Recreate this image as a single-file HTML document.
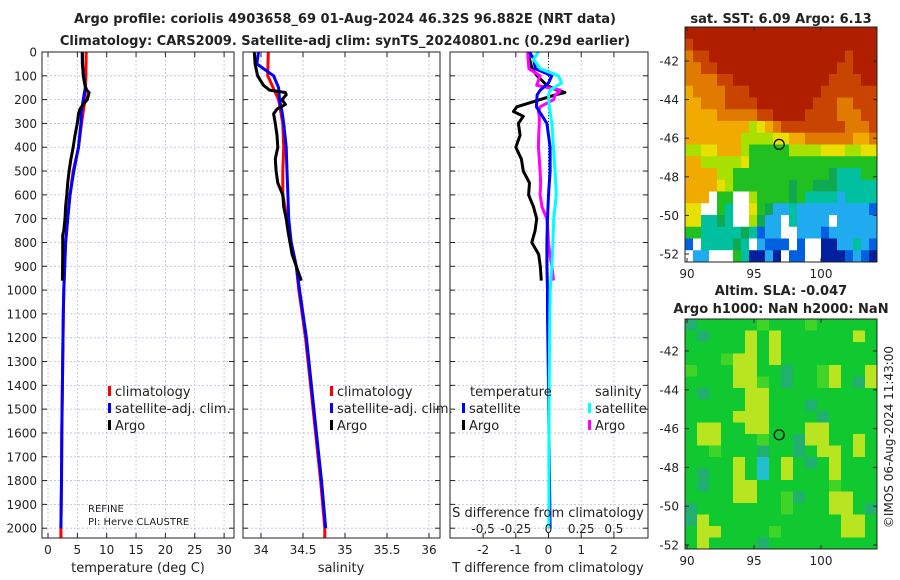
<!DOCTYPE html>
<html><head><meta charset="utf-8"><style>
body{margin:0;background:#fff}
svg{display:block;font-family:"DejaVu Sans","Liberation Sans",sans-serif}
</style></head><body>
<svg id="fig" width="900" height="580" viewBox="0 0 900 580" xmlns="http://www.w3.org/2000/svg">
<g font-weight="bold" font-size="13" fill="#222" text-anchor="middle">
<text x="345" y="23">Argo profile: coriolis 4903658_69 01-Aug-2024 46.32S 96.882E (NRT data)</text>
<text x="345" y="45">Climatology: CARS2009. Satellite-adj clim: synTS_20240801.nc (0.29d earlier)</text>
<text x="781" y="23">sat. SST: 6.09 Argo: 6.13</text>
<text x="781" y="295">Altim. SLA: -0.047</text>
<text x="781" y="313">Argo h1000: NaN h2000: NaN</text>
</g>
<g id="plots"></g>
<text transform="translate(893,437) rotate(-90)" text-anchor="middle" font-size="12" fill="#222">©IMOS 06-Aug-2024 11:43:00</text>
</svg>
<script>
// ---- data ----
const depthTicks = [0,100,200,300,400,500,600,700,800,900,1000,1100,1200,1300,1400,1500,1600,1700,1800,1900,2000];
const tempTicks = [0,5,10,15,20,25,30];
const salTicks = [34,34.5,35,35.5,36];
const salTickLabels = ['34','34.5','35','35.5','36'];
const tdiffTicks = [-2,-1,0,1,2];
const sdiffTicks = [-0.5,-0.25,0,0.25,0.5];
const sdiffTickLabels = ['-0,5','-0.25','0','0.25','0.5'];

const climDepth = [0,100,200,300,400,500,600,700,800,900,1000,1100,1200,1400,1600,1800,2000,2040];
const climTemp = [6.5,6.45,6.3,5.7,5.2,4.3,3.75,3.35,3.0,2.85,2.7,2.6,2.55,2.45,2.35,2.3,2.2,2.2];
const climSal = [34.087,34.08,34.21,34.26,34.27,34.26,34.26,34.31,34.36,34.42,34.45,34.49,34.53,34.59,34.65,34.71,34.76,34.76];

const satDepth = [0,50,100,150,200,250,300,400,500,600,700,800,900,1000,1100,1200,1400,1600,1800,2000];
const satTemp = [5.85,5.85,6.1,6.35,6.0,5.7,5.6,5.2,4.4,3.75,3.35,3.0,2.85,2.7,2.6,2.55,2.45,2.35,2.3,2.2];
const satSal = [33.97,33.95,34.15,34.21,34.22,34.25,34.27,34.30,34.31,34.32,34.33,34.36,34.42,34.46,34.5,34.54,34.6,34.66,34.72,34.77];

const argoDepth = [0,50,100,140,160,170,180,200,220,240,260,300,350,400,450,500,550,600,650,700,750,770,850,960];
const argoTemp = [5.85,5.9,6.0,6.3,6.6,7.0,6.9,6.7,6.0,5.45,5.2,5.0,4.6,4.3,3.9,3.6,3.35,3.2,3.0,2.9,2.7,2.5,2.5,2.45];
const argoSal = [33.92,33.93,33.96,34.03,34.1,34.29,34.3,34.25,34.29,34.19,34.15,34.17,34.19,34.2,34.17,34.18,34.2,34.26,34.27,34.3,34.32,34.33,34.37,34.48];

const dDepthArgo = [0,70,100,140,160,170,180,200,230,250,270,300,350,400,450,500,550,600,650,700,750,800,850,900,960];
const dTempArgo = [-0.64,-0.5,-0.35,-0.05,0.25,0.5,0.2,-0.25,-0.97,-1.07,-0.77,-0.92,-0.87,-1.0,-0.83,-0.77,-0.58,-0.61,-0.46,-0.36,-0.41,-0.51,-0.3,-0.25,-0.22];
const dSalArgo = [-0.16,-0.15,-0.064,-0.09,0.09,0.08,0.05,0.04,-0.064,-0.077,-0.07,-0.07,-0.075,-0.077,-0.07,-0.064,-0.06,-0.064,-0.05,-0.013,-0.005,0.0,0.01,0.026,0.038];
const dDepthSat = [0,30,70,100,130,160,180,230,300,400,500,600,700,800,900,1000,1100,1400,1700,2000];
const dTempSat = [-0.58,-0.45,-0.4,0.1,0.0,-0.25,-0.35,-0.37,-0.05,0.05,0.05,0.0,-0.03,-0.05,-0.05,-0.03,-0.03,0.0,0.02,0.05];
const dSalSat = [-0.077,-0.115,-0.064,0.077,0.1,0.013,0.0,0.005,0.026,0.038,0.05,0.06,0.04,0.034,0.026,0.013,0.01,0.005,0.003,0.003];

const lonTicks = [90,95,100];
const latTicks = [-42,-44,-46,-48,-50,-52];
const argoLon = 96.88, argoLat = -46.32;
const sstGrid = [
"RRRRRRRRRRRRRRRRRRRRRRRR","rRRRRRRRRRRRRRRRRRRRRRRR","orrRRRRRRRRRRRRRRRRRrRRR","oorrRRRRRRRRRRRRRRRrrRRR",
"oooorrRRRRRRRRRRRRrrrrRR","yoooorrrRRRRRRRRRrrrrrrr","yyooorrrrRRRRRRRrrroorrr","yyyyooooorrRRRRrrrrooorr",
"yyyyyyyyLYyorrrrrrrrooor","yyyyyyyLLLLYYyyooooooyyo","LLYYyyyLGGGGGLLLLYYYLLYY","yyLLLLLYGGGGGGGGGGGGGGGG",
"yyyyLLGGGGGGGGGGGGgTTTGG","yyyyYLGGGGGGGgGGgggTTTTT","yyyWGGWWLGGGGgGTTTTCTTTT","YYWWGTWWYGgCCTCCCCCCCCCB",
"YYTTgTWWLgCCWTCCCCWCCCCC","GGTTTTTgTBCCWWCCCBCCCCCC","BWTTTTgTWCBBBWBWWNNCCTCB","WCCWWWGTNNCNWBBWWNNNBCBN"];
const slaGrid = [
"TGGGGGgGGGgGGGGG","GTGGGLGLGGGGGGLG","GGGGGLGLGGGGGGGG","GGGgLLGLGGGGGGGG","gGGGLLGGTGGgLGGL",
"GGGGLLgGTGGgLGTL","GTGGGLLGGGGGGGGG","GGGGGLLGGGTGGGGG","GGGGLLLGGGGTGGGG","GLLGGLLGGGLLGGGG",
"GLLGGGgGGTLLGGLG","GGgGGGTGGTGLLGLG","GGGGLGCGLGTGLGGG","GTGGLGCGLGGGLGGG","GTGGLLGGGGGGgGGG",
"GGGGLLGGgTGGLLGG","TGGGGGGGgGGGLLGT","TLGGGGGGGGGGGLLG","GLLGGGGgGGGGGLLG","GLGGGGTGGGGGGGGG"];
const sstColors = {R:'#b01e00',r:'#c84400',o:'#e07a00',y:'#f0aa00',Y:'#e8e000',L:'#a8e000',G:'#20c020',g:'#10a850',T:'#00c0a0',C:'#20aaf0',B:'#0060e0',N:'#0020a0',W:'#ffffff'};
const slaColors = {G:'#10c830',g:'#40d428',L:'#b8e420',T:'#20b070',C:'#20c0d0'};

// ---- axes ----
const yD = d => 52 + d * 0.2381;
const xT = t => 48 + t * 5.87;
const xS = s => 261 + (s - 34) * 84;
const xDT = v => 548.5 + v * 32.7;
const xDS = v => 548.5 + v * 130.8;
const mxLon = lon => 687 + (lon - 90) * 13.4;
const m1yLat = lat => 61 + (-42 - lat) * 19.3;
const m2yLat = lat => 351 + (-42 - lat) * 19.4;

const NS = 'http://www.w3.org/2000/svg';
const root = document.getElementById('plots');
function mk(tag, attrs, parent) {
  const e = document.createElementNS(NS, tag);
  for (const k in attrs) e.setAttribute(k, attrs[k]);
  (parent || root).appendChild(e);
  return e;
}
function txt(x, y, s, anchor, size, parent) {
  const t = mk('text', {x: x, y: y, 'text-anchor': anchor || 'middle', 'font-size': size || 12, fill: '#222'}, parent);
  t.textContent = s;
  return t;
}

function panel(name, x0, x1, xTicks, xLabels, xf, yLabels) {
  const g = mk('g', {});
  
  
  depthTicks.forEach(d => {
    const y = yD(d);
    const gl = mk('line', {x1: x0, x2: x1, y1: y, y2: y, stroke: '#b8c0dc', 'stroke-width': 0.8, 'stroke-dasharray': '2,2'}, g);
    
    
    mk('line', {x1: x0, x2: x0 + 5, y1: y, y2: y, stroke: '#222'}, g);
    mk('line', {x1: x1 - 5, x2: x1, y1: y, y2: y, stroke: '#222'}, g);
    if (yLabels) {
      const t = txt(x0 - 5, y + 4.5, String(d), 'end', 12, g);
      
      
    }
  });
  xTicks.forEach((v, i) => {
    const x = xf(v);
    const gl = mk('line', {x1: x, x2: x, y1: 52, y2: 538, stroke: '#b8c0dc', 'stroke-width': 0.8, 'stroke-dasharray': '2,2'}, g);
    
    
    mk('line', {x1: x, x2: x, y1: 538, y2: 533, stroke: '#222'}, g);
    mk('line', {x1: x, x2: x, y1: 52, y2: 57, stroke: '#222'}, g);
    const t = txt(x, 554, xLabels[i], 'middle', 12, g);
    
    
  });
  return g;
}
function line(g, xs, ds, xf, color, w, name) {
  const pts = ds.map((d, i) => xf(xs[i]).toFixed(1) + ',' + yD(d).toFixed(1)).join(' ');
  const p = mk('polyline', {points: pts, fill: 'none', stroke: color, 'stroke-width': w, 'stroke-linejoin': 'round'}, g);
  
  
}
function frame(g, x0, x1) {
  mk('rect', {x: x0, y: 52, width: x1 - x0, height: 486, fill: 'none', stroke: '#222', 'stroke-width': 1}, g);
}
function legend(g, x, y, color, label, name) {
  const m = mk('rect', {x: x, y: y - 10, width: 3, height: 10, fill: color}, g);
  
  
  const t = txt(x + 7, y, label, 'start', 13, g);
  
  
}

// Panel 1 temperature
const p1 = panel('temperature-panel', 42, 234, tempTicks, tempTicks.map(String), xT, true);
line(p1, climTemp, climDepth, xT, '#ff0000', 3, 'temp-climatology-line');
line(p1, satTemp, satDepth, xT, '#0000ff', 3, 'temp-satellite-line');
line(p1, argoTemp, argoDepth, xT, '#000000', 3, 'temp-argo-line');
frame(p1, 42, 234);
legend(p1, 108, 396, '#ff0000', 'climatology', 'legend-climatology');
legend(p1, 108, 413, '#0000ff', 'satellite-adj. clim.', 'legend-satellite');
legend(p1, 108, 430, '#000000', 'Argo', 'legend-argo');
let t = txt(88, 512, 'REFINE', 'start', 10, p1);
 
t = txt(88, 525, 'PI: Herve CLAUSTRE', 'start', 10, p1);
 
t = txt(138, 572, 'temperature (deg C)', 'middle', 13, p1);
 

// Panel 2 salinity
const p2 = panel('salinity-panel', 243, 440, salTicks, salTickLabels, xS, false);
line(p2, climSal, climDepth, xS, '#ff0000', 3, 'sal-climatology-line');
line(p2, satSal, satDepth, xS, '#0000ff', 3, 'sal-satellite-line');
line(p2, argoSal, argoDepth, xS, '#000000', 3, 'sal-argo-line');
frame(p2, 243, 440);
legend(p2, 330, 396, '#ff0000', 'climatology', 'legend-sal-climatology');
legend(p2, 330, 413, '#0000ff', 'satellite-adj. clim.', 'legend-sal-satellite');
legend(p2, 330, 430, '#000000', 'Argo', 'legend-sal-argo');
t = txt(341, 572, 'salinity', 'middle', 13, p2);
 

// Panel 3 differences
const p3 = panel('difference-panel', 450, 648, tdiffTicks, tdiffTicks.map(String), xDT, false);
const zl = mk('line', {x1: 548.5, x2: 548.5, y1: 52, y2: 200, stroke: '#333', 'stroke-width': 1, 'stroke-dasharray': '1,2'}, p3);
 
line(p3, dTempArgo, dDepthArgo, xDT, '#000000', 3, 'tdiff-argo-line');
line(p3, dSalArgo, dDepthArgo, xDS, '#ff00ff', 3, 'sdiff-argo-line');
line(p3, dTempSat, dDepthSat, xDT, '#0000ff', 3, 'tdiff-satellite-line');
line(p3, dSalSat, dDepthSat, xDS, '#00ffff', 3, 'sdiff-satellite-line');
frame(p3, 450, 648);
sdiffTicks.forEach((v, i) => {
  const tl = txt(xDS(v), 533, sdiffTickLabels[i], 'middle', 12, p3);
  
  
});
t = txt(548, 517, 'S difference from climatology', 'middle', 13, p3);
 
t = txt(548, 572, 'T difference from climatology', 'middle', 13, p3);
 
t = txt(470, 396, 'temperature', 'start', 13, p3);
 
t = txt(595, 396, 'salinity', 'start', 13, p3);
 
legend(p3, 462, 413, '#0000ff', 'satellite', 'legend-tdiff-satellite');
legend(p3, 462, 430, '#000000', 'Argo', 'legend-tdiff-argo');
legend(p3, 588, 413, '#00ffff', 'satellite', 'legend-sdiff-satellite');
legend(p3, 588, 430, '#ff00ff', 'Argo', 'legend-sdiff-argo');

// Maps
function map(name, grid, colors, y0, y1, yf) {
  const x0 = 685, x1 = 877;
  const g = mk('g', {});
  
  
  const rows = grid.length, cols = grid[0].length;
  const cw = (x1 - x0) / cols, ch = (y1 - y0) / rows;
  grid.forEach((row, r) => {
    for (let c = 0; c < cols; c++) {
      const cell = mk('rect', {x: (x0 + c * cw).toFixed(2), y: (y0 + r * ch).toFixed(2), width: (cw + 0.4).toFixed(2), height: (ch + 0.4).toFixed(2), fill: colors[row[c]]}, g);
      
      
    }
  });
  mk('rect', {x: x0, y: y0, width: x1 - x0, height: y1 - y0, fill: 'none', stroke: '#222'}, g);
  latTicks.forEach(lat => {
    const y = yf(lat);
    mk('line', {x1: x0, x2: x0 + 4, y1: y, y2: y, stroke: '#222'}, g);
    mk('line', {x1: x1 - 4, x2: x1, y1: y, y2: y, stroke: '#222'}, g);
    const tl = txt(x0 - 6, y + 4.5, String(lat), 'end', 12, g);
    
    
  });
  lonTicks.forEach(lon => {
    const x = mxLon(lon);
    mk('line', {x1: x, x2: x, y1: y1, y2: y1 - 4, stroke: '#222'}, g);
    mk('line', {x1: x, x2: x, y1: y0, y2: y0 + 4, stroke: '#222'}, g);
    const tl = txt(x, y1 + 16, String(lon), 'middle', 12, g);
    
    
  });
  const m = mk('circle', {cx: mxLon(argoLon), cy: yf(argoLat), r: 5, fill: 'none', stroke: '#000', 'stroke-width': 1.2}, g);
  
  
}
map('sst-map', sstGrid, sstColors, 27, 262, m1yLat);
map('sla-map', slaGrid, slaColors, 319, 549, m2yLat);
</script>
</body></html>
